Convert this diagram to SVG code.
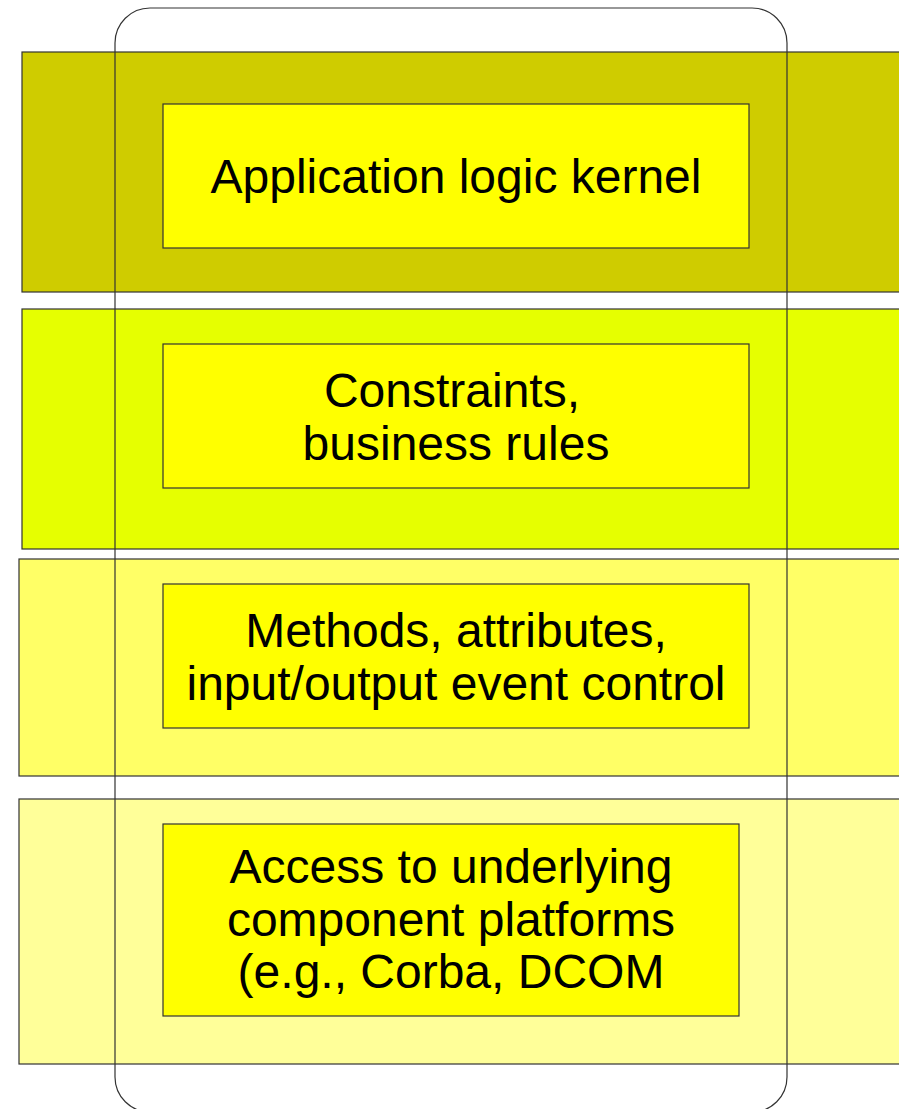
<svg xmlns="http://www.w3.org/2000/svg" width="899" height="1109" viewBox="0 0 899 1109">
<style>
.band{stroke:#333;stroke-width:1.2}
.box{fill:#ffff00;stroke:#333;stroke-width:1.2}
.t{font-family:"Liberation Sans",Arial,sans-serif;font-size:48px;fill:#000;text-anchor:middle}
</style>
<rect width="899" height="1109" fill="#fff"/>
<g id="band1"><rect class="band" x="22" y="52" width="890" height="240" fill="#cfcc00"/></g>
<g id="band2"><rect class="band" x="22" y="309" width="890" height="240" fill="#e6ff00"/></g>
<g id="band3"><rect class="band" x="19" y="559" width="890" height="217" fill="#ffff66"/></g>
<g id="band4"><rect class="band" x="19" y="799" width="890" height="265" fill="#ffff99"/></g>
<g id="component"><rect x="115" y="8" width="672" height="1104" rx="35" ry="35" fill="none" stroke="#333" stroke-width="1.2"/></g>
<g id="node1"><rect class="box" x="163" y="104" width="586" height="144"/><text class="t" x="456" y="193">Application logic kernel</text></g>
<g id="node2"><rect class="box" x="163" y="344" width="586" height="144"/><text class="t" x="452" y="407">Constraints,</text><text class="t" x="456" y="460">business rules</text></g>
<g id="node3"><rect class="box" x="163" y="584" width="586" height="144"/><text class="t" x="456" y="647">Methods, attributes,</text><text class="t" x="456" y="700">input/output event control</text></g>
<g id="node4"><rect class="box" x="163" y="824" width="576" height="192"/><text class="t" x="451" y="883">Access to underlying</text><text class="t" x="451" y="936">component platforms</text><text class="t" x="451" y="988">(e.g., Corba, DCOM</text></g>
<g id="connectors"></g>
</svg>
